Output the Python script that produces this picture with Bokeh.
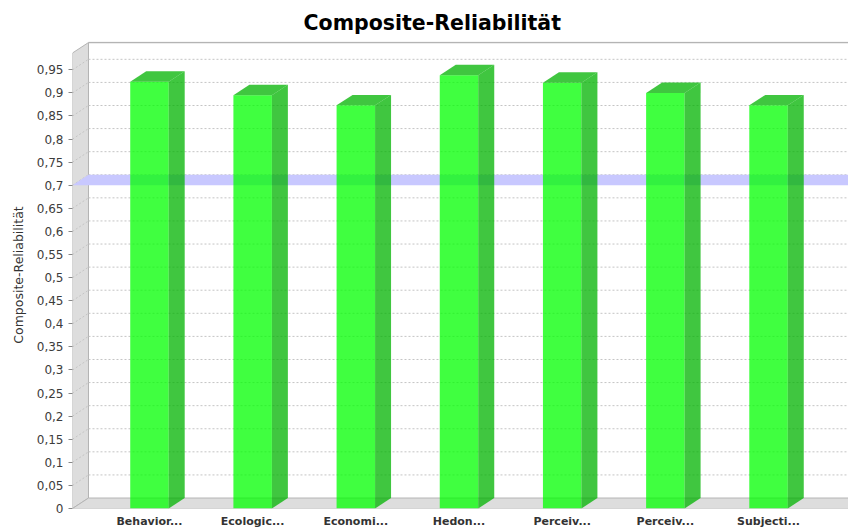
from bokeh.plotting import figure
from bokeh.models import Range1d, FixedTicker
from bokeh.embed import file_html
from bokeh.resources import INLINE

# Composite reliability per construct
categories = ["Behavior...", "Ecologic...", "Economi...", "Hedon...",
              "Perceiv...", "Perceiv...", "Subjecti..."]
reliability = [0.924, 0.895, 0.873, 0.938, 0.922, 0.900, 0.873]
threshold = 0.7
y_tick_labels = ["0", "0,05", "0,1", "0,15", "0,2", "0,25", "0,3", "0,35", "0,4",
                 "0,45", "0,5", "0,55", "0,6", "0,65", "0,7", "0,75", "0,8", "0,85",
                 "0,9", "0,95"]
chart_title = "Composite-Reliabilität"
y_axis_title = "Composite-Reliabilität"

y_ticks = [float(t.replace(",", ".")) for t in y_tick_labels]
positions = list(range(len(categories)))

# 3D projection geometry (data units)
X0, X1 = -0.746, 6.775
Y0, Y1 = 0.0, 1.0113
DX, DY = 0.155, 0.0227          # depth offset of the back plane
HALF = 0.1865                   # half width of a bar's front face
WALL_TOP = 1.0091               # top edge of the back wall

FONT = "DejaVu Sans"
WALL = "#dddddd"
EDGE = "#b4b4b4"

p = figure(width=848, height=530,
           x_range=Range1d(X0, X1), y_range=Range1d(Y0, Y1),
           output_backend="svg", toolbar_location=None,
           min_border_left=72, min_border_right=0,
           min_border_top=41, min_border_bottom=22)
p.outline_line_color = None
p.background_fill_color = "white"
p.border_fill_color = "white"
p.xgrid.visible = False
p.ygrid.visible = False

p.title.text = chart_title
p.title.text_font = FONT
p.title.text_font_size = "20.5px"
p.title.text_font_style = "bold"
p.title.text_color = "black"
p.title.align = "left"
p.title.offset = 231
p.title.standoff = 13

# left wall and floor
p.patch([X0, X0 + DX, X0 + DX, X0], [0, DY, WALL_TOP, WALL_TOP - DY],
        fill_color=WALL, line_color=EDGE, line_width=1)
p.patch([X0, X1, X1, X0 + DX], [0, 0, DY, DY],
        fill_color=WALL, line_color=EDGE, line_width=1)
p.line([X0 + DX, X1], [WALL_TOP, WALL_TOP], line_color=EDGE, line_width=1.5)

# dashed gridlines on the back wall and on the side wall
grid_vals = [v for v in y_ticks if v > 0]
p.segment(x0=[X0 + DX] * len(grid_vals), y0=[v + DY for v in grid_vals],
          x1=[X1] * len(grid_vals), y1=[v + DY for v in grid_vals],
          line_color="#c4c4c4", line_width=1, line_dash="2 2")
p.segment(x0=[X0] * len(grid_vals), y0=grid_vals,
          x1=[X0 + DX] * len(grid_vals), y1=[v + DY for v in grid_vals],
          line_color="#c4c4c4", line_width=1, line_dash="2 2")

# threshold marker band
p.patch([X0, X1, X1, X0 + DX],
        [threshold, threshold, threshold + DY, threshold + DY],
        fill_color="#c8c8ff", line_color=None)

# bars: front faces, side faces, top faces
p.vbar(x=positions, top=reliability, bottom=0, width=2 * HALF,
       fill_color="#00ff00", fill_alpha=0.75, line_color=None)
side_xs, side_ys, top_xs, top_ys = [], [], [], []
for x, v in zip(positions, reliability):
    l, r = x - HALF, x + HALF
    side_xs.append([r, r + DX, r + DX, r])
    side_ys.append([0, DY, v + DY, v])
    top_xs.append([l, l + DX, r + DX, r])
    top_ys.append([v, v + DY, v + DY, v])
p.patches(side_xs, side_ys, fill_color="#00b300", fill_alpha=0.75, line_color=None)
p.patches(top_xs, top_ys, fill_color="#00b300", fill_alpha=0.75, line_color=None)

# value axis
p.yaxis.ticker = FixedTicker(ticks=y_ticks)
p.yaxis.major_label_overrides = dict(zip(y_ticks, y_tick_labels))
p.yaxis.axis_label = y_axis_title
p.yaxis.axis_label_text_font = FONT
p.yaxis.axis_label_text_font_size = "12.5px"
p.yaxis.axis_label_text_font_style = "normal"
p.yaxis.axis_label_text_color = "#333333"
p.yaxis.axis_label_standoff = 8
p.yaxis.major_label_text_font = FONT
p.yaxis.major_label_text_font_size = "12px"
p.yaxis.major_label_text_color = "#3c3c3c"
p.yaxis.major_label_standoff = 5
p.yaxis.major_tick_in = 0
p.yaxis.major_tick_out = 4
p.yaxis.major_tick_line_color = "#888888"
p.yaxis.minor_tick_line_color = None
p.yaxis.axis_line_color = None

# category axis
p.xaxis.ticker = FixedTicker(ticks=positions)
p.xaxis.major_label_overrides = dict(zip(positions, categories))
p.xaxis.major_label_text_font = FONT
p.xaxis.major_label_text_font_size = "11px"
p.xaxis.major_label_text_font_style = "bold"
p.xaxis.major_label_text_color = "#333333"
p.xaxis.major_label_standoff = 6
p.xaxis.major_tick_in = 0
p.xaxis.major_tick_out = 0
p.xaxis.minor_tick_in = 0
p.xaxis.minor_tick_out = 0
p.xaxis.major_tick_line_color = None
p.xaxis.minor_tick_line_color = None
p.xaxis.axis_line_color = None

open("out.html", "w").write(file_html(p, INLINE))
